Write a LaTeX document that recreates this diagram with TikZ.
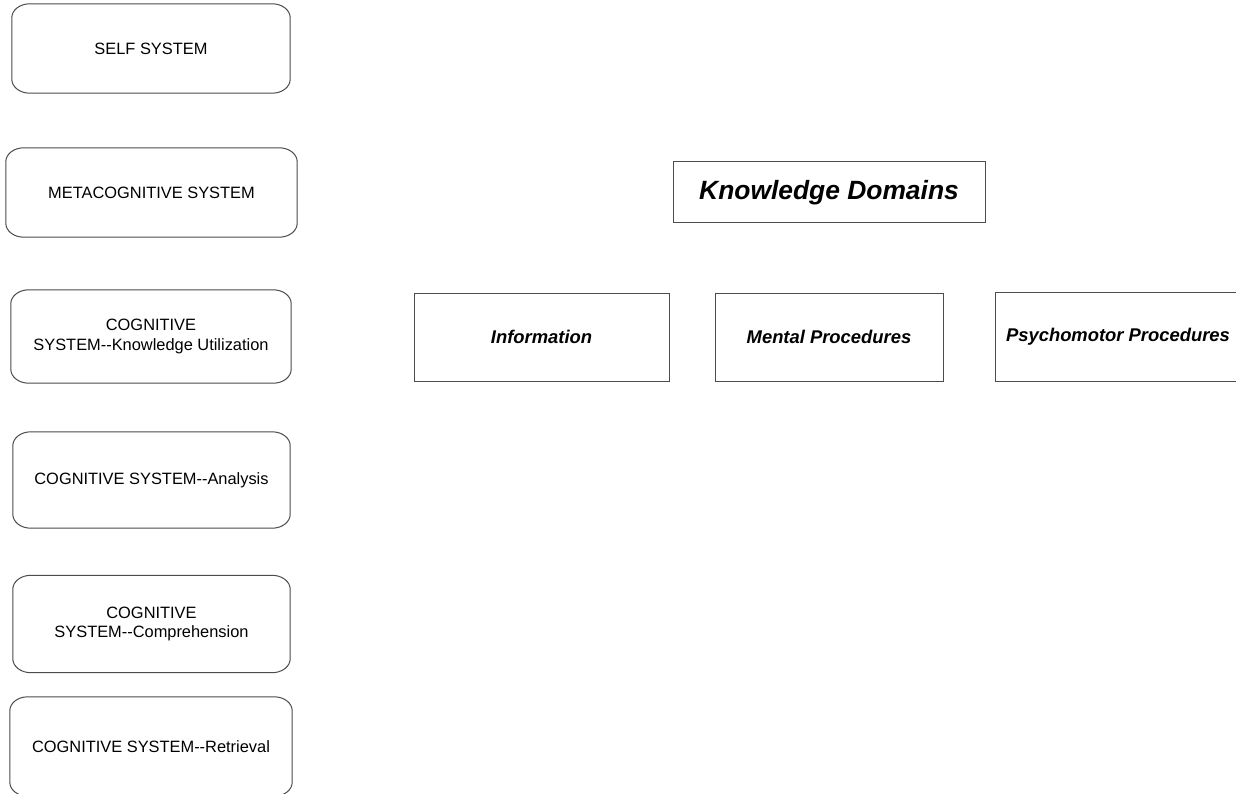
\documentclass[tikz,border=0pt]{standalone}
\usepackage{fontspec}
\setmainfont{Liberation Sans}
\tikzset{
  sysbox/.style={draw=none, inner sep=0pt, align=center, font=\fontsize{16.4}{19.5}\selectfont},
  kbox/.style={draw=black!70, line width=1pt, inner sep=0pt, align=center, font=\fontsize{18.4}{22}\selectfont\bfseries\itshape},
  boxline/.style={draw=black!70, line width=1pt}
}
\newcommand\ovalframe[1]{%
  \draw[boxline] ([xshift=18pt]#1.north west) -- ([xshift=-18pt]#1.north east)
    arc[start angle=90,end angle=0,x radius=18pt,y radius=14pt]
    -- ([yshift=14pt]#1.south east)
    arc[start angle=0,end angle=-90,x radius=18pt,y radius=14pt]
    -- ([xshift=18pt]#1.south west)
    arc[start angle=270,end angle=180,x radius=18pt,y radius=14pt]
    -- ([yshift=-14pt]#1.north west)
    arc[start angle=180,end angle=90,x radius=18pt,y radius=14pt] -- cycle;}
\begin{document}
\begin{tikzpicture}[x=1pt,y=-1pt]
\useasboundingbox (0,0) rectangle (1236,794);
\clip (0,0) rectangle (1236,794);
\fill[white] (0,0) rectangle (1236,794);
\node[sysbox, minimum width=278pt, minimum height=89pt] (self) at (151,48.5) {SELF SYSTEM};
\node[sysbox, minimum width=291pt, minimum height=89pt] (meta) at (151.5,192.5) {METACOGNITIVE SYSTEM};
\node[sysbox, minimum width=280pt, minimum height=93pt] (util) at (151,336.5) {COGNITIVE\\SYSTEM-{}-Knowledge Utilization};
\node[sysbox, minimum width=277pt, minimum height=96pt] (anal) at (151.5,480) {COGNITIVE SYSTEM-{}-Analysis};
\node[sysbox, minimum width=277pt, minimum height=97pt] (comp) at (151.5,624) {COGNITIVE\\SYSTEM-{}-Comprehension};
\node[sysbox, minimum width=282pt, minimum height=99pt] (retr) at (151,746.5) {COGNITIVE SYSTEM-{}-Retrieval};
\ovalframe{self}
\ovalframe{meta}
\ovalframe{util}
\ovalframe{anal}
\ovalframe{comp}
\ovalframe{retr}
\node[kbox, minimum width=312pt, minimum height=61pt, font=\fontsize{26.4}{30}\selectfont\bfseries\itshape] (kd) at (829,192.5) {Knowledge Domains};
\node[kbox, minimum width=255pt, minimum height=88pt] (info) at (541.5,337) {Information};
\node[kbox, minimum width=228pt, minimum height=88pt] (ment) at (829,337) {Mental Procedures};
\node[kbox, minimum width=246pt, minimum height=89pt] (psych) at (1118,336.5) {Psychomotor Procedures};
\end{tikzpicture}
\end{document}
